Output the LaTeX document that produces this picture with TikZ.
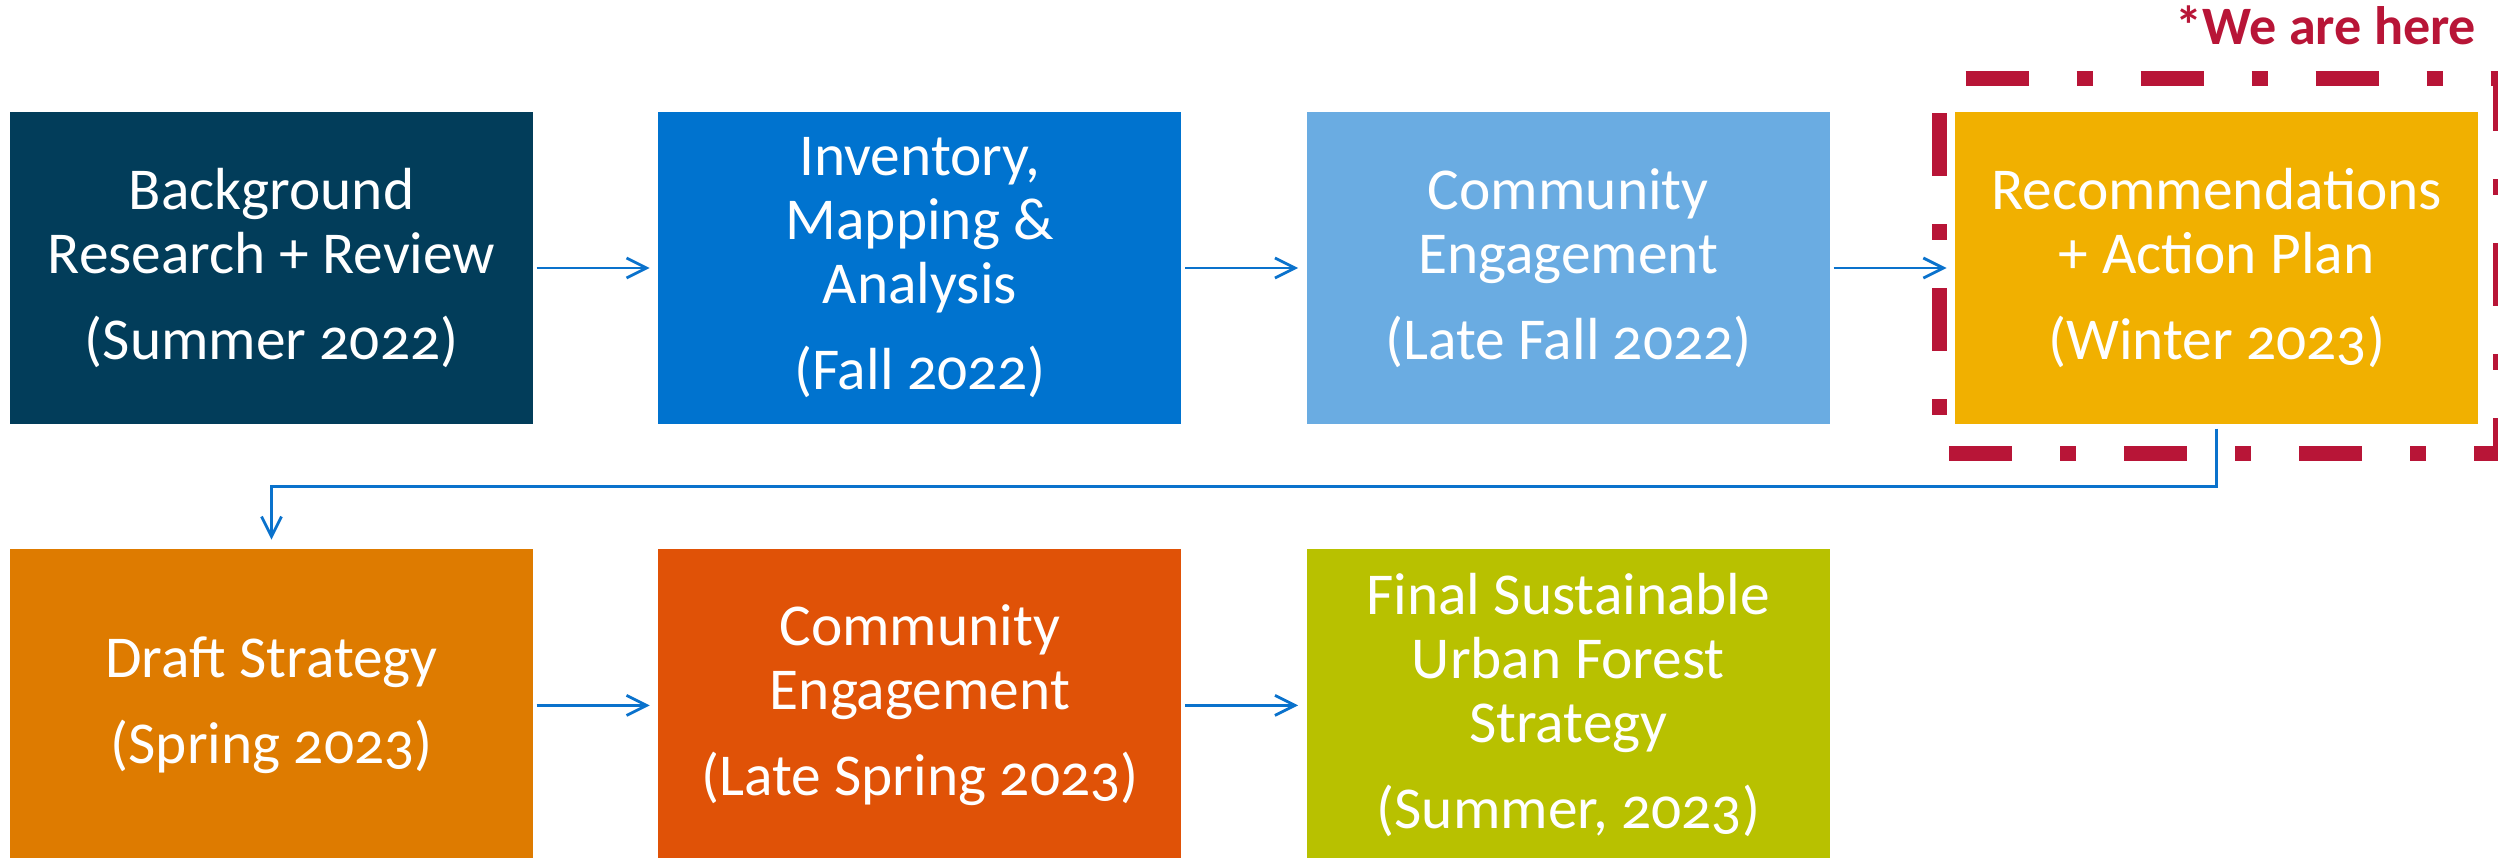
\documentclass[tikz,border=0pt]{standalone}
\usepackage{fontspec}
\setmainfont{Carlito}[Numbers=OldStyle]
\usetikzlibrary{calc}
\usetikzlibrary{arrows.meta}
\usetikzlibrary{positioning}

\definecolor{navy}{HTML}{023D5A}
\definecolor{ocean}{HTML}{0073CF}
\definecolor{sky}{HTML}{6AACE2}
\definecolor{amber}{HTML}{F1B000}
\definecolor{carrot}{HTML}{DE7B00}
\definecolor{rust}{HTML}{E05207}
\definecolor{lime}{HTML}{B8C100}
\definecolor{crimson}{HTML}{B81537}
\definecolor{linkblue}{HTML}{0A72CC}

\begin{document}
\begin{tikzpicture} [
  stage/.style={minimum width=5.23cm, minimum height=3.12cm, inner sep=0pt,
    text=white, align=center, font=\fontsize{16.9}{18.2}\selectfont},
  link/.style={draw=linkblue, line width=0.8pt,
    -{Straight Barb[length=5.7pt,width=5.7pt]}},
  herebox/.style={draw=crimson, line width=4.3pt, line join=miter,
    dash pattern=on 0.63cm off 0.48cm on 0.16cm off 0.48cm, dash phase=1.49cm},
  node distance=1.24cm
]

\useasboundingbox (0,0) rectangle (24.98,-8.57);

\node[stage,fill=navy] (A) at (2.715,-2.68) {Background\\Research + Review\\[0.22cm](Summer 2022)};
\node[stage,fill=ocean,right=of A] (B) {Inventory,\\Mapping \&\\Analysis\\[0.22cm](Fall 2022)};
\node[stage,fill=sky,right=of B] (C) {Community\\Engagement\\[0.22cm](Late Fall 2022)};
\node[stage,fill=amber,right=of C] (D) {Recommendations\\+ Action Plan\\[0.22cm](Winter 2023)};

\node[stage,fill=carrot,below=of A] (E) {Draft Strategy\\[0.22cm](Spring 2023)};
\node[stage,fill=rust,right=of E] (F) {Community\\Engagement\\[0.22cm](Late Spring 2023)};
\node[stage,fill=lime,right=of F] (G) {Final Sustainable\\Urban Forest\\Strategy\\[0.22cm](Summer, 2023)};

\draw[link,shorten <=0.03cm,shorten >=0.08cm] (A.east) -- (B.west);
\draw[link,shorten <=0.03cm,shorten >=0.08cm] (B.east) -- (C.west);
\draw[link,shorten <=0.03cm,shorten >=0.08cm] (C.east) -- (D.west);
\draw[link,shorten <=0.04cm,shorten >=0.09cm] (D.south) -- ++(0,-0.62) -| (E.north);
\draw[link,shorten <=0.03cm,shorten >=0.08cm] (E.east) -- (F.west);
\draw[link,shorten <=0.03cm,shorten >=0.08cm] (F.east) -- (G.west);

\draw[herebox] ([xshift=-0.15cm,yshift=0.33cm]D.north west) -- ([xshift=0.22cm,yshift=0.33cm]D.north east)
  -- ([xshift=0.22cm,yshift=-0.29cm]D.south east) -- ([xshift=-0.15cm,yshift=-0.29cm]D.south west) -- cycle;

\node[anchor=base east, inner sep=0pt, text=crimson, font=\fontsize{15.4}{17}\selectfont\bfseries] (H)
  at ([yshift=0.67cm,xshift=-0.02cm]D.north east) {*We are here};

\end{tikzpicture}
\end{document}
